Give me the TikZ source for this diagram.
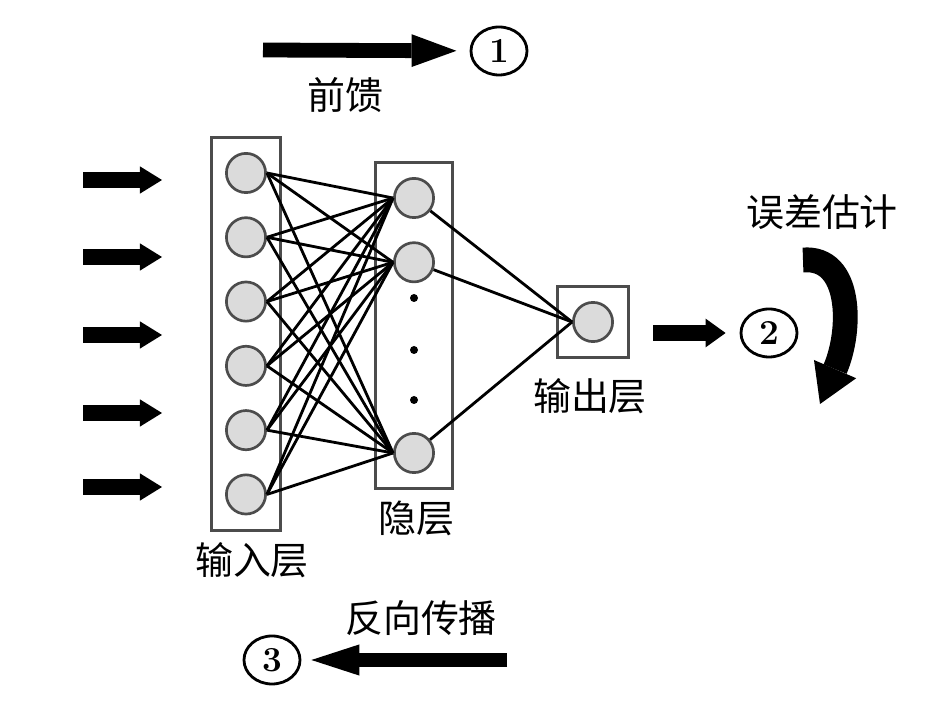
\documentclass[tikz,border=0pt]{standalone}
\usepackage{fontspec}
\newfontfamily\cjk{Noto Sans CJK SC}
\usepackage{tikz}
\usetikzlibrary{arrows.meta,positioning,shapes.geometric,fit}

\begin{document}
\begin{tikzpicture}[x=0.025cm, y=-0.025cm,
  neuron/.style={circle, draw=black!70, line width=1.9pt, fill=black!14,
                 minimum size=0.98cm, inner sep=0pt},
  layer/.style={draw=black!70, line width=2.1pt, inner sep=0.37cm},
  link/.style={line width=2pt},
  lbl/.style={font=\cjk\fontsize{27}{30}\selectfont, inner sep=0pt},
  stepnum/.style={ellipse, draw, line width=2pt, minimum width=1.4cm,
                  minimum height=1.2cm, inner sep=0pt,
                  font=\fontsize{25}{25}\selectfont\bfseries},
  fat/.style={line width=0.42cm, -{Triangle[length=0.55cm, width=0.68cm, line width=0pt]}},
  node distance=0.56cm
]
\useasboundingbox (0,0) rectangle (936,701);

% input layer
\node[neuron] (in1) at (246,173) {};
\node[neuron, below=of in1] (in2) {};
\node[neuron, below=of in2] (in3) {};
\node[neuron, below=of in3] (in4) {};
\node[neuron, below=of in4] (in5) {};
\node[neuron, below=of in5] (in6) {};
\node[layer, fit=(in1)(in6), inner xsep=0.34cm] (inbox) {};

% hidden layer
\node[neuron] (hid1) at (414,198) {};
\node[neuron, below=of hid1] (hid2) {};
\node[neuron] (hid3) at (414,453) {};
\node[layer, fit=(hid1)(hid3), inner xsep=0.45cm] (hidbox) {};
\node[circle, fill, inner sep=0pt, minimum size=0.2cm] (dot1) at (414,298) {};
\node[circle, fill, inner sep=0pt, minimum size=0.2cm] (dot2) at (414,350) {};
\node[circle, fill, inner sep=0pt, minimum size=0.2cm] (dot3) at (414,400) {};

% output layer
\node[neuron] (out) at (593,322) {};
\node[layer, fit=(out)] (outbox) {};

\foreach \i in {1,...,6}
  \foreach \j in {1,2,3}
    \draw[link] (in\i.east) -- (hid\j.west);
\draw[link] (hid1) -- (out.west);
\draw[link] (hid2) -- (out.west);
\draw[link] (hid3) -- (out.west);

% labels
\node[lbl] (inlbl) at (252,560) {输入层};
\node[lbl] (hidlbl) at (416,518) {隐层};
\node[lbl] (outlbl) at (590,396) {输出层};
\node[lbl] (fblbl) at (345,95) {前馈};
\node[lbl] (errlbl) at (822,212) {误差估计};
\node[lbl] (bplbl) at (421,618) {反向传播};

% steps
\node[stepnum] (num1) at (499,51) {1};
\node[stepnum] (num2) at (769,333) {2};
\node[stepnum] (num3) at (272,660) {3};

\coordinate (fbstart) at (263,50);
\coordinate (errstart) at (653,333);
\coordinate (bpstart) at (507,660);
\draw[line width=0.37cm, -{Triangle[length=1.12cm, width=0.82cm, line width=0pt]},
      shorten >=0.33cm] (fbstart) -- (num1);
\draw[line width=0.38cm, -{Triangle[length=0.5cm, width=0.72cm, line width=0pt]},
      shorten >=0.35cm] (errstart) -- (num2);
\draw[line width=0.35cm, -{Triangle[length=1.2cm, width=0.78cm, line width=0pt]},
      shorten >=0.25cm] (bpstart) -- (num3);

% inputs
\foreach \y [count=\k] in {180,257,335,413,487} {
  \coordinate (src\k) at (83,\y);
  \coordinate (dst\k) at (162,\y);
  \draw[fat] (src\k) -- (dst\k);
}

% error loop
\coordinate (loopa) at (803,260);
\coordinate (loopb) at (820,404);
\draw[line width=0.62cm, -{Triangle[length=0.95cm, width=1.15cm, line width=0pt]}]
  (loopa) .. controls (852,256) and (852,330) .. (loopb);
\end{tikzpicture}
\end{document}
